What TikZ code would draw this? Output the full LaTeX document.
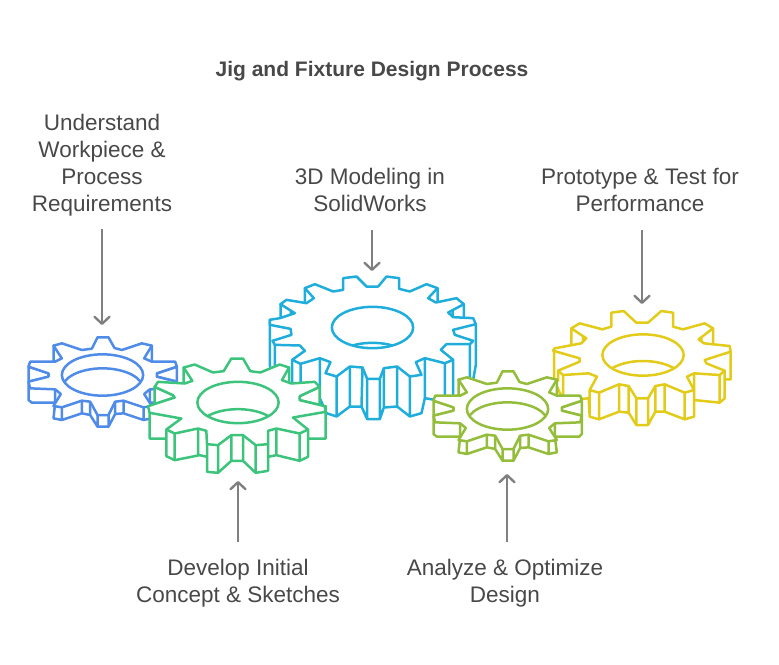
\documentclass[tikz,border=0pt]{standalone}
\usepackage{fontspec}
\setmainfont{Liberation Sans}
\usetikzlibrary{arrows.meta}

\definecolor{bluegear}{HTML}{4F8BE8}
\definecolor{greengear}{HTML}{3CC47C}
\definecolor{cyangear}{HTML}{1FAEDC}
\definecolor{olivegear}{HTML}{93BD3A}
\definecolor{yellowgear}{HTML}{E3CB1A}
\definecolor{arrowgray}{HTML}{808080}
\definecolor{textgray}{HTML}{484848}

\tikzset{
  gearline/.style={line width=2.5pt, line join=round, fill=white},
  steplabel/.style={align=center, text=textgray, font=\fontsize{22.5}{27}\selectfont, inner sep=0pt, outer sep=19pt},
  steparrow/.style={-{Straight Barb[length=7pt, width=15pt, round]}, draw=arrowgray, line width=2.4pt}
}

% shift x, shift y, colour, side walls, top face, hole drop
\newcommand{\gearpic}[6]{
  \begin{scope}[shift={(#1,#2)}, x=1/3*1pt, y=-1/3*1pt, color=#3]
    \draw [gearline] #4;
    \draw [gearline] #5;
    \draw [gearline] (0,0) ellipse [x radius=122, y radius=62];
    \begin{scope}
      \clip (0,0) ellipse [x radius=122, y radius=62];
      \draw [line width=2.5pt] (0,#6) ellipse [x radius=122, y radius=62];
    \end{scope}
  \end{scope}
}

% small gear, blue and olive
\newcommand{\smallwalls}{
  (-147,-88) -- (-147,-38) -- (-120,-38) -- (-120,-88) -- cycle
  (148,-88) -- (148,-38) -- (120,-38) -- (120,-88) -- cycle
  (-222,-25) -- (-222,20) -- (-162,5) -- (-162,-5) -- cycle
  (223,-25) -- (223,20) -- (163,5) -- (163,-5) -- cycle
  (-222,20) -- (-222,75) -- (-212,83) -- (-142,83) -- (-147,130) -- (-122,135) -- (-62,115) -- (-37,120)
  -- (-15,155) -- (18,155) -- (38,117) -- (63,115) -- (123,135) -- (148,130) -- (142,83) -- (215,83) -- (223,75) -- (223,20) -- cycle
  (-142,43) -- (-142,83) (-122,97) -- (-122,135) (-62,77) -- (-62,115) (-37,77) -- (-37,118)
  (-15,120) -- (-15,155) (18,120) -- (18,155) (38,80) -- (38,117) (63,77) -- (63,115) (123,97) -- (123,135) (142,43) -- (142,83)
}
\newcommand{\smalltop}{
  (-15,-113) -- (18,-113) -- (36,-81) -- (58,-75) -- (118,-95) -- (148,-88) -- (125,-50) -- (148,-40)
  -- (218,-40) -- (223,-25) -- (163,-5) -- (163,5) -- (223,20) -- (218,40) -- (142,43) -- (125,57) -- (148,93) -- (123,97)
  -- (63,77) -- (38,80) -- (18,120) -- (-15,120) -- (-37,80) -- (-62,77) -- (-122,97) -- (-147,93) -- (-125,57) -- (-142,43)
  -- (-217,40) -- (-222,20) -- (-162,5) -- (-162,-5) -- (-222,-25) -- (-217,-40) -- (-142,-40) -- (-122,-50)
  -- (-147,-88) -- (-122,-95) -- (-62,-75) -- (-32,-79) -- cycle
}
% medium gear, one tooth on top
\newcommand{\greenwalls}{
  (-163,-105) -- (-163,-55) -- (-130,-55) -- (-130,-105) -- cycle
  (153,-105) -- (153,-55) -- (125,-55) -- (125,-105) -- cycle
  (-250,-47) -- (-250,5) -- (-190,-15) -- (-195,-22) -- cycle
  (245,-47) -- (245,7) -- (185,-7) -- (185,-19) -- cycle
  (-265,31) -- (-265,108) -- (-215,108) -- (-215,161) -- (-190,173) -- (-115,158) -- (-93,163) -- (-93,208) -- (-60,211) -- (-20,175) -- (15,175)
  -- (53,211) -- (90,205) -- (90,163) -- (115,158) -- (185,175) -- (210,163) -- (210,108) -- (263,108) -- (263,11) -- cycle
  (-215,81) -- (-215,161) (-190,93) -- (-190,173) (-120,78) -- (-120,158) (-93,125) -- (-93,208) (-60,128) -- (-60,211) (-20,98) -- (-20,175)
  (15,98) -- (15,175) (53,128) -- (53,211) (90,125) -- (90,205) (115,78) -- (115,158) (185,93) -- (185,175) (210,81) -- (210,163)
}
\newcommand{\greentop}{
  (-20,-132) -- (15,-132) -- (37,-94) -- (67,-90) -- (125,-114) -- (153,-105) -- (132,-67) -- (160,-57) -- (230,-62) -- (245,-47)
  -- (185,-19) -- (185,-7) -- (260,11) -- (263,28) -- (165,45) -- (210,81) -- (185,93) -- (115,78) -- (90,85) -- (90,125) -- (53,128)
  -- (15,98) -- (-20,98) -- (-60,128) -- (-93,125) -- (-95,85) -- (-120,78) -- (-190,93) -- (-215,81) -- (-170,48) -- (-265,31) -- (-270,11)
  -- (-190,-15) -- (-195,-22) -- (-250,-47) -- (-240,-62) -- (-160,-57) -- (-137,-65) -- (-163,-105) -- (-130,-114) -- (-75,-90) -- (-43,-94) -- cycle
}
% medium gear, two teeth on top
\newcommand{\yellowwalls}{
  (-215,-80) -- (-215,-25) -- (-180,-25) -- (-180,-85) -- cycle
  (210,-80) -- (210,-25) -- (175,-25) -- (175,-85) -- cycle
  (-267,-13) -- (-267,75) -- (-240,135) -- (-163,130) -- (-160,185) -- (-132,193) -- (-72,170) -- (-43,173) -- (-20,210) -- (15,210) -- (37,170)
  -- (65,170) -- (125,193) -- (153,185) -- (153,135) -- (230,143) -- (245,130) -- (245,73) -- (263,73) -- (263,-10) -- cycle
  (-255,47) -- (-255,80) (-240,60) -- (-240,135) (-160,105) -- (-160,185) (-132,113) -- (-132,193) (-72,88) -- (-72,170) (-43,93) -- (-43,173) (-20,130) -- (-20,210)
  (15,130) -- (15,210) (37,93) -- (37,170) (65,88) -- (65,170) (125,113) -- (125,193) (153,55) -- (153,135) (230,60) -- (230,143) (245,47) -- (245,130)
}
\newcommand{\yellowtop}{
  (-265,-20) -- (-185,-35) -- (-170,-50) -- (-215,-80) -- (-190,-95) -- (-122,-77) -- (-95,-85) -- (-95,-127) -- (-58,-132) -- (-20,-97) -- (15,-97)
  -- (55,-132) -- (90,-127) -- (90,-85) -- (120,-77) -- (185,-95) -- (210,-80) -- (167,-47) -- (183,-35) -- (260,-27) -- (263,-10)
  -- (185,15) -- (190,25) -- (245,47) -- (230,60) -- (153,55) -- (132,65) -- (153,105) -- (125,113) -- (65,88) -- (37,93) -- (15,130)
  -- (-20,130) -- (-43,93) -- (-72,88) -- (-132,113) -- (-160,105) -- (-138,65) -- (-163,55) -- (-240,60) -- (-255,47) -- (-190,20) -- (-190,10) -- (-270,-13) -- cycle
}
% big gear
\newcommand{\cyanwalls}{
  (-276,-70) -- (-276,-20) -- (-245,-20) -- (-245,-70) -- cycle
  (-203,-118) -- (-203,-65) -- (-176,-65) -- (-176,-118) -- cycle
  (195,-118) -- (195,-68) -- (170,-68) -- (170,-118) -- cycle
  (274,-70) -- (274,-20) -- (240,-20) -- (240,-70) -- cycle
  (-308,-23) -- (-308,112) -- (-300,160) -- (-293,172) -- (-241,212) -- (-216,229) -- (-158,212) -- (-138,257) -- (-108,267) -- (-68,237) -- (-33,237)
  -- (-16,275) -- (22,275) -- (34,240) -- (74,237) -- (112,267) -- (147,257) -- (157,212) -- (217,222) -- (242,217) -- (292,172) -- (302,157) -- (310,112) -- (310,-10) -- cycle
  (-241,97) -- (-241,212) (-216,109) -- (-216,229) (-158,92) -- (-158,212) (-108,147) -- (-108,267) (-68,117) -- (-68,237) (-30,120) -- (-33,237) (-16,154) -- (-16,275)
  (22,154) -- (22,275) (34,122) -- (34,240) (74,117) -- (74,237) (112,147) -- (112,267) (157,92) -- (157,212) (217,107) -- (217,222) (242,97) -- (242,217)
  (292,50) -- (292,172) (-293,52) -- (-293,172)
}
\newcommand{\cyantop}{
  (-308,-23) -- (-278,-28) -- (-233,-43) -- (-276,-70) -- (-258,-83) -- (-198,-73) -- (-176,-88) -- (-203,-118) -- (-173,-130) -- (-118,-108) -- (-88,-113)
  -- (-88,-148) -- (-48,-153) -- (-18,-123) -- (17,-123) -- (42,-153) -- (80,-148) -- (80,-116) -- (112,-108) -- (162,-130) -- (195,-118) -- (167,-88)
  -- (190,-75) -- (252,-88) -- (274,-70) -- (227,-45) -- (242,-31) -- (302,-28) -- (310,-10) -- (242,7) -- (247,22) -- (302,40) -- (292,50) -- (222,50)
  -- (205,67) -- (242,97) -- (217,107) -- (157,92) -- (130,104) -- (147,142) -- (112,147) -- (74,117) -- (34,122) -- (22,154) -- (-16,154) -- (-30,120)
  -- (-68,117) -- (-108,147) -- (-141,137) -- (-126,104) -- (-158,92) -- (-216,109) -- (-241,97) -- (-203,70) -- (-218,54) -- (-293,52) -- (-300,40)
  -- (-243,22) -- (-246,4) -- (-308,-8) -- cycle
}

\begin{document}
\begin{tikzpicture}[x=1pt, y=-1pt]
  \useasboundingbox (0,0) rectangle (779,664);

  \node [font=\fontsize{21}{24}\selectfont\bfseries, text=textgray] (title) at (372,71) {Jig and Fixture Design Process};

  \gearpic{372.5}{327.5}{cyangear}{\cyanwalls}{\cyantop}{108}
  \gearpic{102.5}{375}{bluegear}{\smallwalls}{\smalltop}{42}
  \gearpic{238}{402.5}{greengear}{\greenwalls}{\greentop}{82}
  \gearpic{643}{355}{yellowgear}{\yellowwalls}{\yellowtop}{80}
  \gearpic{507.5}{409}{olivegear}{\smallwalls}{\smalltop}{42}

  \node [steplabel, outer sep=13pt] (understand) at (102,165.5) {Understand\\Workpiece \&\\Process\\Requirements};
  \node [steplabel] (modeling) at (370,189.5) {3D Modeling in\\SolidWorks};
  \node [steplabel] (prototype) at (640,189.5) {Prototype \& Test for\\Performance};
  \node [steplabel, outer sep=18pt] (concept) at (238,583.5) {Develop Initial\\Concept \& Sketches};
  \node [steplabel, outer sep=18pt] (analyze) at (505,583.5) {Analyze \& Optimize\\Design};

  \coordinate (understandtip) at (102,325);
  \coordinate (modelingtip) at (372,271);
  \coordinate (prototypetip) at (642,304);
  \coordinate (concepttip) at (238,481);
  \coordinate (analyzetip) at (507,474);

  \draw [steparrow] (understand.south -| understandtip) -- (understandtip);
  \draw [steparrow] (modeling.south -| modelingtip) -- (modelingtip);
  \draw [steparrow] (prototype.south -| prototypetip) -- (prototypetip);
  \draw [steparrow] (concept.north -| concepttip) -- (concepttip);
  \draw [steparrow] (analyze.north -| analyzetip) -- (analyzetip);
\end{tikzpicture}
\end{document}
